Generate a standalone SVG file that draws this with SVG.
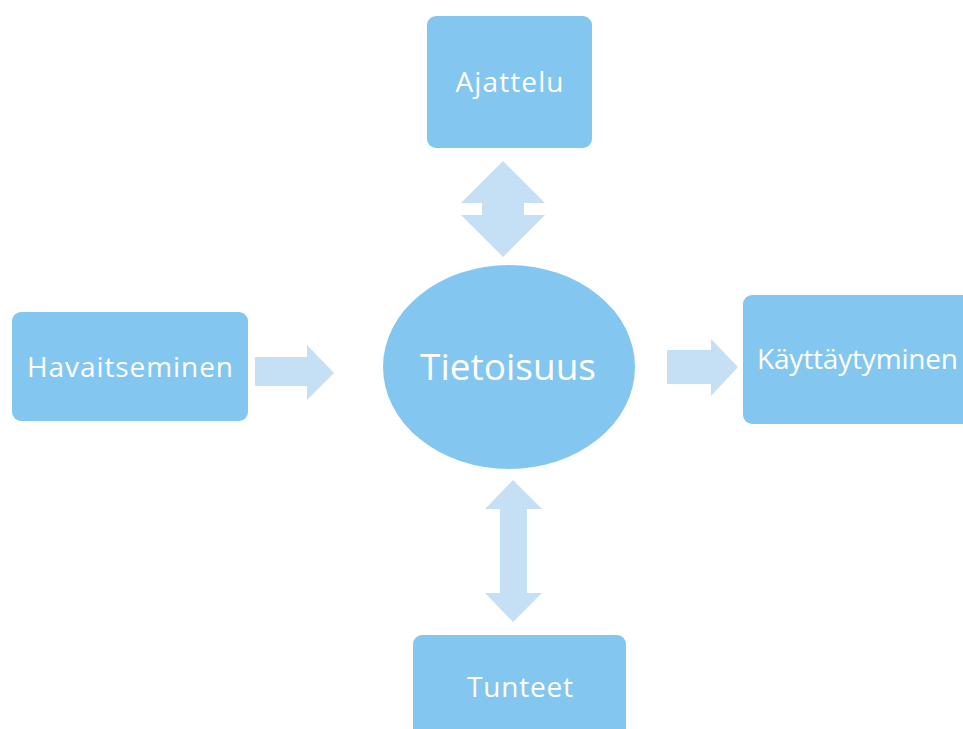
<svg xmlns="http://www.w3.org/2000/svg" width="963" height="729" viewBox="0 0 963 729">
<style>
.box{fill:#83C7F0}
.arr{fill:#C5E0F4}
.t{fill:#fff;font-family:"Open Sans","Liberation Sans",sans-serif;font-size:28px;text-anchor:middle}
</style>
<rect width="963" height="729" fill="#fff"/>
<g id="connectors">
<polygon class="arr" points="503,161 545,203 524,203 524,215 545,215 503,257 461,215 482,215 482,203 461,203"/>
<polygon class="arr" points="255,357 307,357 307,345 334,373 307,400 307,386 255,386"/>
<polygon class="arr" points="667,350 711,350 711,339 738,367 711,396 711,384 667,384"/>
<polygon class="arr" points="513,480 542,509 527,509 527,593 542,593 513,622 485,593 500,593 500,509 485,509"/>
</g>
<g id="ajattelu"><rect class="box" x="427" y="16" width="165" height="132" rx="9"/><text class="t" x="509.5" y="92" textLength="108">Ajattelu</text></g>
<g id="havaitseminen"><rect class="box" x="12" y="312" width="236" height="109" rx="9"/><text class="t" x="130" y="377" textLength="206">Havaitseminen</text></g>
<g id="tietoisuus"><ellipse class="box" cx="509" cy="367" rx="126" ry="102"/><text class="t" x="508" y="380" style="font-size:37px" textLength="176">Tietoisuus</text></g>
<g id="kayttaytyminen"><rect class="box" x="743" y="295" width="240" height="129" rx="9"/><text class="t" x="857.5" y="369" textLength="201">Käyttäytyminen</text></g>
<g id="tunteet"><rect class="box" x="413" y="635" width="213" height="110" rx="9"/><text class="t" x="520" y="697" textLength="106">Tunteet</text></g>
</svg>
